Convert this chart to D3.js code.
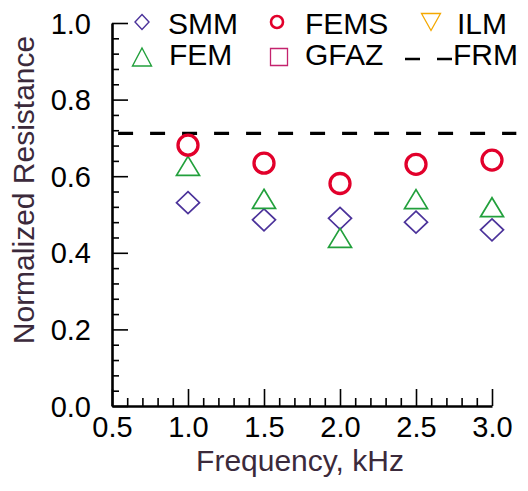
<!DOCTYPE html>
<html lang="en">
<head>
    <meta charset="UTF-8">
    <title>Normalized Resistance</title>
    <script src="https://d3js.org/d3.v7.min.js"></script>
    <style>
        body { margin: 0; background: #fff; }
        text { font-family: "Liberation Sans", Arial, sans-serif; }
    </style>
</head>
<body>
    <svg width="528" height="491"></svg>

    <script>
        // Values
        const frequency = [1.0, 1.5, 2.0, 2.5, 3.0];
        const smm  = [0.531, 0.486, 0.490, 0.480, 0.460];
        const fems = [0.681, 0.634, 0.581, 0.631, 0.642];
        const fem  = [0.627, 0.541, 0.439, 0.540, 0.519];
        const frm  = 0.712;
        const frmExtent = [0.54, 3.16];

        const xTicks = [0.5, 1.0, 1.5, 2.0, 2.5, 3.0];
        const xMinor = d3.range(0.6, 3.0, 0.1).filter(v => Math.abs(v * 2 - Math.round(v * 2)) > 1e-6);
        const yTicks = [0.0, 0.2, 0.4, 0.6, 0.8, 1.0];
        const yMinor = d3.range(0.04, 1.0, 0.04).filter(v => Math.abs(v * 5 - Math.round(v * 5)) > 1e-6);

        const colors = {
            SMM: "#4b329a", FEMS: "#e2002b", FEM: "#22a03c",
            ILM: "#f4a800", GFAZ: "#c4236e"
        };
        const titleColor = "#3b2a3b";
        const tickFont = 29;
        const labelFont = 30;

        const svg = d3.select("svg");

        const x = d3.scaleLinear().domain([0.5, 3.0]).range([112, 492]);
        const y = d3.scaleLinear().domain([0, 1]).range([406, 23]);

        // marker shapes, centred on their bounding box
        const diamond = (w, h) => `M0,${-h/2}L${w/2},0L0,${h/2}L${-w/2},0Z`;
        const triUp = (w, h) => `M0,${-h/2}L${w/2},${h/2}L${-w/2},${h/2}Z`;
        const triDown = (w, h) => `M0,${h/2}L${w/2},${-h/2}L${-w/2},${-h/2}Z`;
        const square = s => `M${-s/2},${-s/2}h${s}v${s}h${-s}Z`;

        // Axes: minor ticks first, then major
        const xAxisG = svg.append("g").attr("transform", `translate(0,${y(0)})`);
        xAxisG.call(d3.axisBottom(x).tickValues(xMinor).tickSize(-8).tickFormat(""));
        xAxisG.select(".domain").remove();
        const xMajorG = svg.append("g").attr("transform", `translate(0,${y(0)})`)
            .call(d3.axisBottom(x).tickValues(xTicks).tickSizeInner(-17).tickSizeOuter(0)
                .tickFormat(d3.format(".1f")));

        const yAxisG = svg.append("g").attr("transform", `translate(${x(0.5)},0)`);
        yAxisG.call(d3.axisLeft(y).tickValues(yMinor).tickSize(-7).tickFormat(""));
        yAxisG.select(".domain").remove();
        const yMajorG = svg.append("g").attr("transform", `translate(${x(0.5)},0)`)
            .call(d3.axisLeft(y).tickValues(yTicks).tickSizeInner(-16).tickSizeOuter(0)
                .tickFormat(d3.format(".1f")));

        svg.selectAll(".tick line").attr("stroke", "#000").attr("stroke-width", 1.6);
        svg.selectAll(".domain").attr("stroke", "#000").attr("stroke-width", 2.6);

        xMajorG.selectAll(".tick text")
            .attr("fill", "#000").attr("font-size", tickFont)
            .attr("dy", null).attr("y", 31);
        yMajorG.selectAll(".tick text")
            .attr("fill", "#000").attr("font-size", tickFont)
            .attr("x", -21).attr("dy", "0.35em")
            .attr("text-anchor", "end");

        // Axis titles
        svg.append("text")
            .attr("x", 300).attr("y", 471)
            .attr("text-anchor", "middle")
            .attr("font-size", labelFont)
            .attr("fill", titleColor)
            .text("Frequency, kHz");

        svg.append("text")
            .attr("transform", "translate(34,190) rotate(-90)")
            .attr("text-anchor", "middle")
            .attr("font-size", labelFont)
            .attr("fill", titleColor)
            .text("Normalized Resistance");

        // FRM dashed reference line
        svg.append("line")
            .attr("x1", x(frmExtent[0])).attr("x2", x(frmExtent[1]))
            .attr("y1", y(frm)).attr("y2", y(frm))
            .attr("stroke", "#000").attr("stroke-width", 3.2)
            .attr("stroke-dasharray", "15,17");

        // SMM diamonds
        svg.selectAll(".smm").data(frequency).enter().append("path")
            .attr("class", "smm")
            .attr("transform", (d, i) => `translate(${x(d)},${y(smm[i])})`)
            .attr("d", diamond(23, 22))
            .attr("fill", "none").attr("stroke", colors.SMM).attr("stroke-width", 1.7);

        // FEM triangles
        svg.selectAll(".fem").data(frequency).enter().append("path")
            .attr("class", "fem")
            .attr("transform", (d, i) => `translate(${x(d)},${y(fem[i])})`)
            .attr("d", triUp(23, 19))
            .attr("fill", "none").attr("stroke", colors.FEM).attr("stroke-width", 1.7);

        // FEMS circles
        svg.selectAll(".fems").data(frequency).enter().append("circle")
            .attr("class", "fems")
            .attr("cx", d => x(d))
            .attr("cy", (d, i) => y(fems[i]))
            .attr("r", 10)
            .attr("fill", "none").attr("stroke", colors.FEMS).attr("stroke-width", 3.3);

        // Legend
        const legend = svg.append("g");
        const legendItems = [
            { name: "SMM",  mx: 142, tx: 168, row: 0 },
            { name: "FEMS", mx: 277, tx: 305, row: 0 },
            { name: "ILM",  mx: 431, tx: 457, row: 0 },
            { name: "FEM",  mx: 142, tx: 169, row: 1 },
            { name: "GFAZ", mx: 279, tx: 305, row: 1 },
            { name: "FRM",  mx: 428, tx: 453, row: 1 }
        ];
        const rowMarkY = [22, 57];
        const rowTextY = [34, 65];

        legendItems.forEach(item => {
            const my = rowMarkY[item.row];
            const g = legend.append("g").attr("transform", `translate(${item.mx},${my})`);
            if (item.name === "SMM") {
                g.append("path").attr("d", diamond(14, 15))
                    .attr("fill", "none").attr("stroke", colors.SMM).attr("stroke-width", 1.4);
            } else if (item.name === "FEMS") {
                g.append("circle").attr("r", 6)
                    .attr("fill", "none").attr("stroke", colors.FEMS).attr("stroke-width", 2.6);
            } else if (item.name === "ILM") {
                g.append("path").attr("d", triDown(19, 17))
                    .attr("fill", "none").attr("stroke", colors.ILM).attr("stroke-width", 1.3);
            } else if (item.name === "FEM") {
                g.append("path").attr("d", triUp(19, 18))
                    .attr("fill", "none").attr("stroke", colors.FEM).attr("stroke-width", 1.4);
            } else if (item.name === "GFAZ") {
                g.append("path").attr("d", square(17))
                    .attr("fill", "none").attr("stroke", colors.GFAZ).attr("stroke-width", 1.3);
            } else if (item.name === "FRM") {
                g.append("line").attr("x1", -23).attr("x2", 24).attr("y1", 2).attr("y2", 2)
                    .attr("stroke", "#000").attr("stroke-width", 2.6)
                    .attr("stroke-dasharray", "15,17");
            }
            legend.append("text")
                .attr("x", item.tx).attr("y", rowTextY[item.row])
                .attr("font-size", labelFont)
                .attr("fill", "#000")
                .text(item.name);
        });
    </script>
</body>
</html>
